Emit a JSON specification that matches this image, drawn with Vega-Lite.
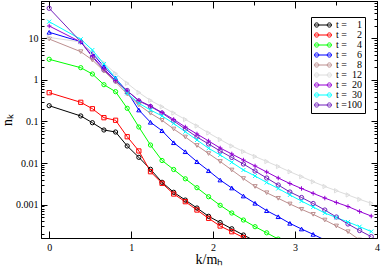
{
 "$schema": "https://vega.github.io/schema/vega-lite/v6.json",
 "width": 336, "height": 237,
 "autosize": "none",
 "padding": {"left": 41, "top": 1, "right": 5, "bottom": 30},
 "background": "white",
 "config": {"view": {"stroke": "black", "strokeWidth": 1}, "font": "Liberation Serif"},
 "data": {"values": [
  {"t":1,"k":0,"n":0.24},{"t":1,"k":0.385,"n":0.136},{"t":1,"k":0.527,"n":0.0935},{"t":1,"k":0.668,"n":0.0624},{"t":1,"k":0.81,"n":0.0558},{"t":1,"k":0.952,"n":0.0257},{"t":1,"k":1.094,"n":0.0137},{"t":1,"k":1.236,"n":0.00705},{"t":1,"k":1.377,"n":0.00343},{"t":1,"k":1.519,"n":0.00197},{"t":1,"k":1.661,"n":0.00128},{"t":1,"k":1.803,"n":0.000824},{"t":1,"k":1.945,"n":0.00052},{"t":1,"k":2.086,"n":0.000368},{"t":1,"k":2.228,"n":0.00026},{"t":1,"k":2.37,"n":0.000184},{"t":1,"k":2.512,"n":0.000132},
  {"t":2,"k":0,"n":0.494},{"t":2,"k":0.385,"n":0.29},{"t":2,"k":0.527,"n":0.203},{"t":2,"k":0.668,"n":0.1235},{"t":2,"k":0.81,"n":0.107},{"t":2,"k":0.952,"n":0.043},{"t":2,"k":1.094,"n":0.0195},{"t":2,"k":1.236,"n":0.00617},{"t":2,"k":1.377,"n":0.00324},{"t":2,"k":1.519,"n":0.00179},{"t":2,"k":1.661,"n":0.00117},{"t":2,"k":1.803,"n":0.000737},{"t":2,"k":1.945,"n":0.000465},{"t":2,"k":2.086,"n":0.000303},{"t":2,"k":2.228,"n":0.000221},{"t":2,"k":2.37,"n":0.00016},{"t":2,"k":2.512,"n":0.000112},
  {"t":4,"k":0,"n":3.15},{"t":4,"k":0.385,"n":1.98},{"t":4,"k":0.527,"n":1.395},{"t":4,"k":0.668,"n":0.77},{"t":4,"k":0.81,"n":0.523},{"t":4,"k":0.952,"n":0.208},{"t":4,"k":1.094,"n":0.0737},{"t":4,"k":1.236,"n":0.0271},{"t":4,"k":1.377,"n":0.01148},{"t":4,"k":1.519,"n":0.00697},{"t":4,"k":1.661,"n":0.00416},{"t":4,"k":1.803,"n":0.00254},{"t":4,"k":1.945,"n":0.00154},{"t":4,"k":2.086,"n":0.000957},{"t":4,"k":2.228,"n":0.000624},{"t":4,"k":2.37,"n":0.000423},{"t":4,"k":2.512,"n":0.000292},{"t":4,"k":2.654,"n":0.000208},{"t":4,"k":2.795,"n":0.000147},
  {"t":6,"k":0,"n":14.1},{"t":6,"k":0.385,"n":8.37},{"t":6,"k":0.527,"n":4.4},{"t":6,"k":0.668,"n":2.09},{"t":6,"k":0.81,"n":1.1},{"t":6,"k":0.952,"n":0.523},{"t":6,"k":1.094,"n":0.189},{"t":6,"k":1.236,"n":0.0957},{"t":6,"k":1.377,"n":0.06},{"t":6,"k":1.519,"n":0.0308},{"t":6,"k":1.661,"n":0.0187},{"t":6,"k":1.803,"n":0.01075},{"t":6,"k":1.945,"n":0.00652},{"t":6,"k":2.086,"n":0.00389},{"t":6,"k":2.228,"n":0.0025},{"t":6,"k":2.37,"n":0.0016},{"t":6,"k":2.512,"n":0.00107},{"t":6,"k":2.654,"n":0.00071},{"t":6,"k":2.795,"n":0.000508},{"t":6,"k":2.937,"n":0.000352},{"t":6,"k":3.079,"n":0.000257},{"t":6,"k":3.221,"n":0.000191},{"t":6,"k":3.363,"n":0.00014},
  {"t":8,"k":0,"n":9.7},{"t":8,"k":0.385,"n":4.81},{"t":8,"k":0.527,"n":3.03},{"t":8,"k":0.668,"n":1.65},{"t":8,"k":0.81,"n":0.895},{"t":8,"k":0.952,"n":0.46},{"t":8,"k":1.094,"n":0.25},{"t":8,"k":1.236,"n":0.158},{"t":8,"k":1.377,"n":0.107},{"t":8,"k":1.519,"n":0.066},{"t":8,"k":1.661,"n":0.0423},{"t":8,"k":1.803,"n":0.0264},{"t":8,"k":1.945,"n":0.0169},{"t":8,"k":2.086,"n":0.01087},{"t":8,"k":2.228,"n":0.00678},{"t":8,"k":2.37,"n":0.00423},{"t":8,"k":2.512,"n":0.00272},{"t":8,"k":2.654,"n":0.00192},{"t":8,"k":2.795,"n":0.00141},{"t":8,"k":2.937,"n":0.00103},{"t":8,"k":3.079,"n":0.000766},{"t":8,"k":3.221,"n":0.00058},{"t":8,"k":3.363,"n":0.000423},{"t":8,"k":3.504,"n":0.000304},{"t":8,"k":3.646,"n":0.000221},{"t":8,"k":3.788,"n":0.00014},
  {"t":12,"k":0,"n":10.6},{"t":12,"k":0.385,"n":8.24},{"t":12,"k":0.527,"n":4.47},{"t":12,"k":0.668,"n":2.57},{"t":12,"k":0.81,"n":1.43},{"t":12,"k":0.952,"n":0.832},{"t":12,"k":1.094,"n":0.5},{"t":12,"k":1.236,"n":0.321},{"t":12,"k":1.377,"n":0.227},{"t":12,"k":1.519,"n":0.16},{"t":12,"k":1.661,"n":0.112},{"t":12,"k":1.803,"n":0.078},{"t":12,"k":1.945,"n":0.0529},{"t":12,"k":2.086,"n":0.0368},{"t":12,"k":2.228,"n":0.0257},{"t":12,"k":2.37,"n":0.0189},{"t":12,"k":2.512,"n":0.01435},{"t":12,"k":2.654,"n":0.01087},{"t":12,"k":2.795,"n":0.00824},{"t":12,"k":2.937,"n":0.00617},{"t":12,"k":3.079,"n":0.00468},{"t":12,"k":3.221,"n":0.00354},{"t":12,"k":3.363,"n":0.00272},{"t":12,"k":3.504,"n":0.00215},{"t":12,"k":3.646,"n":0.0017},{"t":12,"k":3.788,"n":0.00133},{"t":12,"k":3.93,"n":0.00107},
  {"t":20,"k":0,"n":20.0},{"t":20,"k":0.385,"n":8.24},{"t":20,"k":0.527,"n":3.79},{"t":20,"k":0.668,"n":1.84},{"t":20,"k":0.81,"n":0.973},{"t":20,"k":0.952,"n":0.543},{"t":20,"k":1.094,"n":0.321},{"t":20,"k":1.236,"n":0.236},{"t":20,"k":1.377,"n":0.165},{"t":20,"k":1.519,"n":0.112},{"t":20,"k":1.661,"n":0.0737},{"t":20,"k":1.803,"n":0.05},{"t":20,"k":1.945,"n":0.0339},{"t":20,"k":2.086,"n":0.023},{"t":20,"k":2.228,"n":0.0165},{"t":20,"k":2.37,"n":0.0118},{"t":20,"k":2.512,"n":0.00847},{"t":20,"k":2.654,"n":0.00607},{"t":20,"k":2.795,"n":0.00435},{"t":20,"k":2.937,"n":0.0032},{"t":20,"k":3.079,"n":0.00243},{"t":20,"k":3.221,"n":0.00186},{"t":20,"k":3.363,"n":0.00143},{"t":20,"k":3.504,"n":0.00112},{"t":20,"k":3.646,"n":0.000895},{"t":20,"k":3.788,"n":0.000678},{"t":20,"k":3.93,"n":0.000528},
  {"t":30,"k":0,"n":25.4},{"t":30,"k":0.385,"n":9.57},{"t":30,"k":0.527,"n":5.28},{"t":30,"k":0.668,"n":2.43},{"t":30,"k":0.81,"n":1.12},{"t":30,"k":0.952,"n":0.478},{"t":30,"k":1.094,"n":0.275},{"t":30,"k":1.236,"n":0.189},{"t":30,"k":1.377,"n":0.136},{"t":30,"k":1.519,"n":0.0895},{"t":30,"k":1.661,"n":0.0568},{"t":30,"k":1.803,"n":0.0358},{"t":30,"k":1.945,"n":0.0226},{"t":30,"k":2.086,"n":0.0156},{"t":30,"k":2.228,"n":0.0104},{"t":30,"k":2.37,"n":0.00678},{"t":30,"k":2.512,"n":0.00486},{"t":30,"k":2.654,"n":0.00339},{"t":30,"k":2.795,"n":0.00243},{"t":30,"k":2.937,"n":0.0017},{"t":30,"k":3.079,"n":0.00121},{"t":30,"k":3.221,"n":0.00087},{"t":30,"k":3.363,"n":0.000624},{"t":30,"k":3.504,"n":0.000486},{"t":30,"k":3.646,"n":0.000379},{"t":30,"k":3.788,"n":0.000292},{"t":30,"k":3.93,"n":0.000223},
  {"t":100,"k":0,"n":53.4},{"t":100,"k":0.385,"n":8.37},{"t":100,"k":0.527,"n":3.58},{"t":100,"k":0.668,"n":1.74},{"t":100,"k":0.81,"n":0.946},{"t":100,"k":0.952,"n":0.558},{"t":100,"k":1.094,"n":0.312},{"t":100,"k":1.236,"n":0.23},{"t":100,"k":1.377,"n":0.16},{"t":100,"k":1.519,"n":0.1028},{"t":100,"k":1.661,"n":0.066},{"t":100,"k":1.803,"n":0.0423},{"t":100,"k":1.945,"n":0.0287},{"t":100,"k":2.086,"n":0.01945},{"t":100,"k":2.228,"n":0.01357},{"t":100,"k":2.37,"n":0.00946},{"t":100,"k":2.512,"n":0.00641},{"t":100,"k":2.654,"n":0.00435},{"t":100,"k":2.795,"n":0.00295},{"t":100,"k":2.937,"n":0.002},{"t":100,"k":3.079,"n":0.001475},{"t":100,"k":3.221,"n":0.001057},{"t":100,"k":3.363,"n":0.000737},{"t":100,"k":3.504,"n":0.0005},{"t":100,"k":3.646,"n":0.000339},{"t":100,"k":3.788,"n":0.000236},{"t":100,"k":3.93,"n":0.000168}
 ]},
 "layer": [
  {
   "mark": {"type": "line", "strokeWidth": 1, "clip": true},
   "encoding": {
    "x": {"field": "k", "type": "quantitative",
      "scale": {"domain": [-0.1, 4], "nice": false, "zero": false},
      "axis": {"orient": "bottom", "values": [0,0.5,1,1.5,2,2.5,3,3.5,4],
        "labelExpr": "datum.value % 1 == 0 ? datum.label : ''", "format": "d",
        "tickSize": {"condition": {"test": "datum.value % 1 == 0", "value": -7}, "value": -4},
        "tickColor": "black", "domainColor": "black", "grid": false,
        "labelFont": "Liberation Serif", "labelFontSize": 10, "labelColor": "black", "labelPadding": 11,
        "labelOverlap": false, "labelFlush": false,
        "title": "k/m\u2095",
        "titleFont": "Liberation Serif", "titleFontSize": 14, "titleFontWeight": "normal", "titleColor": "black",
        "titlePadding": 0}},
    "y": {"field": "n", "type": "quantitative",
      "scale": {"type": "log", "domain": [0.000156, 80], "nice": false},
      "axis": {"orient": "left",
        "values": [0.0002,0.0003,0.0004,0.0005,0.0006,0.0007,0.0008,0.0009,0.001,0.002,0.003,0.004,0.005,0.006,0.007,0.008,0.009,0.01,0.02,0.03,0.04,0.05,0.06,0.07,0.08,0.09,0.1,0.2,0.3,0.4,0.5,0.6,0.7,0.8,0.9,1,2,3,4,5,6,7,8,9,10,20,30,40,50,60,70,80],
        "format": "~g",
        "labelExpr": "indexof([0.001,0.01,0.1,1,10], datum.value) >= 0 ? datum.label : ''",
        "tickSize": {"condition": {"test": "indexof([0.001,0.01,0.1,1,10], datum.value) >= 0", "value": -6}, "value": -3},
        "tickColor": "black", "domainColor": "black", "grid": false,
        "labelFont": "Liberation Serif", "labelFontSize": 10, "labelColor": "black", "labelPadding": 9,
        "labelOverlap": false, "labelFlush": false,
        "title": "n\u2096",
        "titleFont": "Liberation Serif", "titleFontSize": 14, "titleFontWeight": "normal", "titleColor": "black",
        "titlePadding": 1}},
    "color": {"field": "t", "type": "nominal",
      "scale": {"domain": [1,2,4,6,8,12,20,30,100],
        "range": ["#000000","#ff0000","#00ff00","#0000ff","#bc8f8f","#dcdcdc","#9400d3","#00ffff","#7221bc"]},
      "legend": {"orient": "none", "legendX": 270, "legendY": 16, "title": null,
        "symbolType": "M-1,0H1M-0.5,0A0.25,0.25 0 1,1 -1,0A0.25,0.25 0 1,1 -0.5,0M1,0A0.25,0.25 0 1,1 0.5,0A0.25,0.25 0 1,1 1,0",
        "symbolSize": 289, "symbolStrokeWidth": 1, "symbolFillColor": "transparent",
        "labelFont": "Liberation Serif", "labelFontSize": 10, "labelColor": "black",
        "labelExpr": "'t =' + (toNumber(datum.value) < 10 ? '\u2007\u2007' : toNumber(datum.value) < 100 ? '\u2007' : '') + datum.label",
        "strokeColor": "black", "fillColor": "white", "padding": 3, "rowPadding": 0, "clipHeight": 10, "labelLimit": 0}}
   }
  },
  {
   "transform": [{"filter": {"field": "t", "oneOf": [1, 4, 100]}}],
   "mark": {"type": "point", "shape": "circle", "filled": false, "size": 18, "strokeWidth": 1, "clip": true, "opacity": 1},
   "encoding": {
    "x": {"field": "k", "type": "quantitative",
      "scale": {"domain": [-0.1, 4], "nice": false, "zero": false},
      "axis": {"orient": "top", "values": [0,0.5,1,1.5,2,2.5,3,3.5,4], "labels": false, "title": null,
        "tickSize": {"condition": {"test": "datum.value % 1 == 0", "value": -7}, "value": -4},
        "tickColor": "black", "domainColor": "black", "grid": false}},
    "y": {"field": "n", "type": "quantitative",
      "scale": {"type": "log", "domain": [0.000156, 80], "nice": false},
      "axis": {"orient": "right",
        "values": [0.0002,0.0003,0.0004,0.0005,0.0006,0.0007,0.0008,0.0009,0.001,0.002,0.003,0.004,0.005,0.006,0.007,0.008,0.009,0.01,0.02,0.03,0.04,0.05,0.06,0.07,0.08,0.09,0.1,0.2,0.3,0.4,0.5,0.6,0.7,0.8,0.9,1,2,3,4,5,6,7,8,9,10,20,30,40,50,60,70,80],
        "labels": false, "title": null,
        "tickSize": {"condition": {"test": "indexof([0.001,0.01,0.1,1,10], datum.value) >= 0", "value": -6}, "value": -3},
        "tickColor": "black", "domainColor": "black", "grid": false}},
    "color": {"field": "t", "type": "nominal", "legend": null,
      "scale": {"domain": [1,2,4,6,8,12,20,30,100],
        "range": ["#000000","#ff0000","#00ff00","#0000ff","#bc8f8f","#dcdcdc","#9400d3","#00ffff","#7221bc"]}}
   }
  },
  {
   "transform": [{"filter": {"field": "t", "equal": 2}}],
   "mark": {"type": "point", "shape": "square", "filled": false, "size": 18, "strokeWidth": 1, "clip": true, "opacity": 1},
   "encoding": {
    "x": {"field": "k", "type": "quantitative", "scale": {"domain": [-0.1, 4], "nice": false, "zero": false}, "axis": null},
    "y": {"field": "n", "type": "quantitative", "scale": {"type": "log", "domain": [0.000156, 80], "nice": false}, "axis": null},
    "color": {"field": "t", "type": "nominal", "legend": null,
      "scale": {"domain": [1,2,4,6,8,12,20,30,100],
        "range": ["#000000","#ff0000","#00ff00","#0000ff","#bc8f8f","#dcdcdc","#9400d3","#00ffff","#7221bc"]}}
   }
  },
  {
   "transform": [{"filter": {"field": "t", "equal": 6}}],
   "mark": {"type": "point", "shape": "triangle-up", "filled": false, "size": 18, "strokeWidth": 1, "clip": true, "opacity": 1},
   "encoding": {
    "x": {"field": "k", "type": "quantitative", "scale": {"domain": [-0.1, 4], "nice": false, "zero": false}, "axis": null},
    "y": {"field": "n", "type": "quantitative", "scale": {"type": "log", "domain": [0.000156, 80], "nice": false}, "axis": null},
    "color": {"field": "t", "type": "nominal", "legend": null,
      "scale": {"domain": [1,2,4,6,8,12,20,30,100],
        "range": ["#000000","#ff0000","#00ff00","#0000ff","#bc8f8f","#dcdcdc","#9400d3","#00ffff","#7221bc"]}}
   }
  },
  {
   "transform": [{"filter": {"field": "t", "equal": 8}}],
   "mark": {"type": "point", "shape": "triangle-down", "filled": false, "size": 18, "strokeWidth": 1, "clip": true, "opacity": 1},
   "encoding": {
    "x": {"field": "k", "type": "quantitative", "scale": {"domain": [-0.1, 4], "nice": false, "zero": false}, "axis": null},
    "y": {"field": "n", "type": "quantitative", "scale": {"type": "log", "domain": [0.000156, 80], "nice": false}, "axis": null},
    "color": {"field": "t", "type": "nominal", "legend": null,
      "scale": {"domain": [1,2,4,6,8,12,20,30,100],
        "range": ["#000000","#ff0000","#00ff00","#0000ff","#bc8f8f","#dcdcdc","#9400d3","#00ffff","#7221bc"]}}
   }
  },
  {
   "transform": [{"filter": {"field": "t", "equal": 12}}],
   "mark": {"type": "point", "shape": "triangle-right", "filled": false, "size": 18, "strokeWidth": 1, "clip": true, "opacity": 1},
   "encoding": {
    "x": {"field": "k", "type": "quantitative", "scale": {"domain": [-0.1, 4], "nice": false, "zero": false}, "axis": null},
    "y": {"field": "n", "type": "quantitative", "scale": {"type": "log", "domain": [0.000156, 80], "nice": false}, "axis": null},
    "color": {"field": "t", "type": "nominal", "legend": null,
      "scale": {"domain": [1,2,4,6,8,12,20,30,100],
        "range": ["#000000","#ff0000","#00ff00","#0000ff","#bc8f8f","#dcdcdc","#9400d3","#00ffff","#7221bc"]}}
   }
  },
  {
   "transform": [{"filter": {"field": "t", "equal": 20}}],
   "mark": {"type": "point", "shape": "M-1,0H1M0,-1V1", "filled": false, "size": 20, "strokeWidth": 1, "clip": true, "opacity": 1},
   "encoding": {
    "x": {"field": "k", "type": "quantitative", "scale": {"domain": [-0.1, 4], "nice": false, "zero": false}, "axis": null},
    "y": {"field": "n", "type": "quantitative", "scale": {"type": "log", "domain": [0.000156, 80], "nice": false}, "axis": null},
    "color": {"field": "t", "type": "nominal", "legend": null,
      "scale": {"domain": [1,2,4,6,8,12,20,30,100],
        "range": ["#000000","#ff0000","#00ff00","#0000ff","#bc8f8f","#dcdcdc","#9400d3","#00ffff","#7221bc"]}}
   }
  },
  {
   "transform": [{"filter": {"field": "t", "equal": 30}}],
   "mark": {"type": "point", "shape": "M-1,-1L1,1M-1,1L1,-1", "filled": false, "size": 16, "strokeWidth": 1, "clip": true, "opacity": 1},
   "encoding": {
    "x": {"field": "k", "type": "quantitative", "scale": {"domain": [-0.1, 4], "nice": false, "zero": false}, "axis": null},
    "y": {"field": "n", "type": "quantitative", "scale": {"type": "log", "domain": [0.000156, 80], "nice": false}, "axis": null},
    "color": {"field": "t", "type": "nominal", "legend": null,
      "scale": {"domain": [1,2,4,6,8,12,20,30,100],
        "range": ["#000000","#ff0000","#00ff00","#0000ff","#bc8f8f","#dcdcdc","#9400d3","#00ffff","#7221bc"]}}
   }
  }
 ],
 "resolve": {"axis": {"x": "independent", "y": "independent"}}
}
